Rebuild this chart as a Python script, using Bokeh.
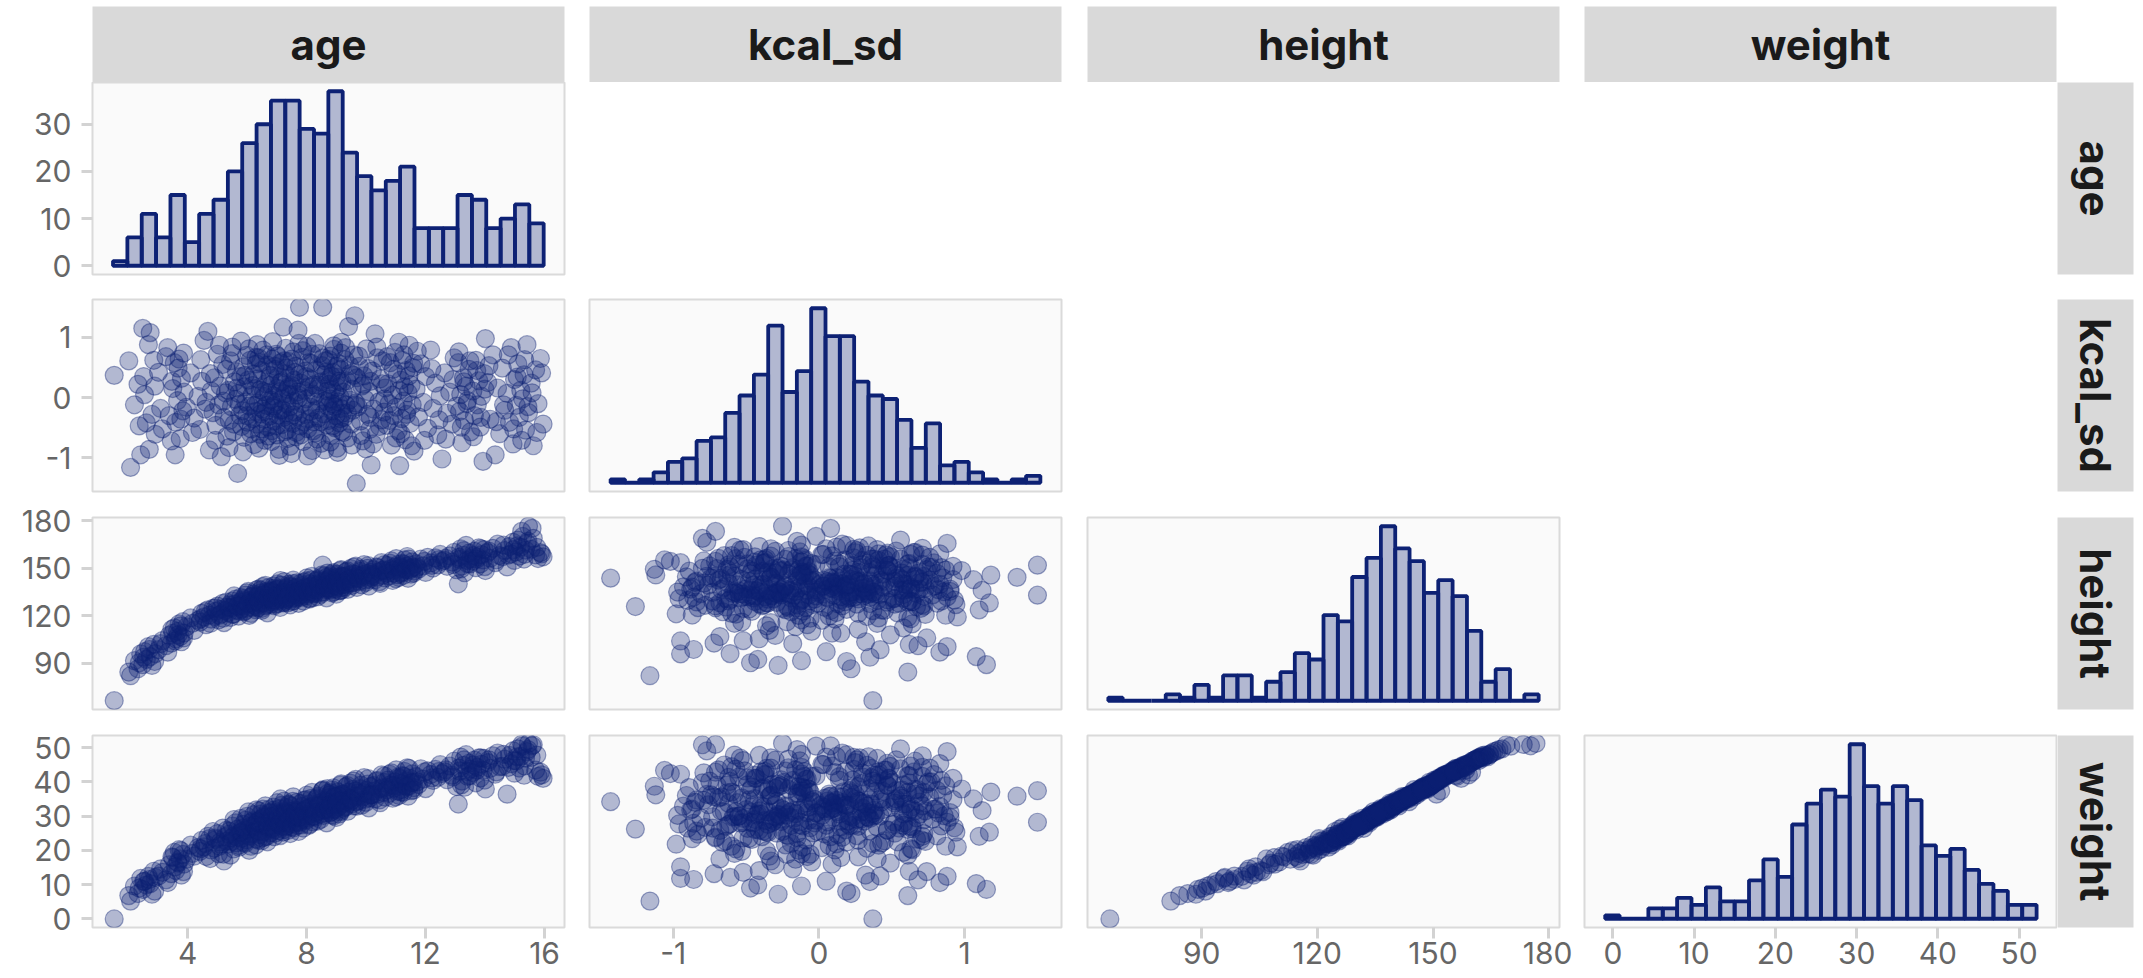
import numpy as np
from bokeh.embed import file_html
from bokeh.layouts import column, row
from bokeh.models import FixedTicker, Label, Range1d, Spacer
from bokeh.plotting import figure
from bokeh.resources import INLINE

NAMES = ["age", "kcal_sd", "height", "weight"]

# One entry per child, same order in every list
AGE = [
    1.53,
    2.08, 2.21, 2.33, 2.42,
    2.49, 2.55, 2.61, 2.68, 2.74, 2.80, 2.86, 2.91,
    3.02, 3.15, 3.27, 3.38,
    3.45, 3.50, 3.55, 3.60, 3.66, 3.71, 3.75, 3.79, 3.84, 3.88,
    3.96, 4.10, 4.22, 4.35,
    4.41, 4.47, 4.55, 4.62, 4.68, 4.73, 4.79, 4.85,
    4.90, 4.95, 5.00, 5.04, 5.09, 5.13, 5.18, 5.22, 5.27, 5.32,
    5.37, 5.40, 5.44, 5.47, 5.50, 5.54, 5.57, 5.61, 5.64, 5.68, 5.71, 5.75, 5.78, 5.81,
    5.85, 5.87, 5.90, 5.92, 5.95, 5.98, 6.01, 6.04, 6.07, 6.10, 6.13, 6.16, 6.19, 6.22, 6.24, 6.27, 6.29, 6.31,
    6.33, 6.35, 6.37, 6.39, 6.42, 6.44, 6.46, 6.49, 6.51, 6.53, 6.56, 6.58, 6.60, 6.63, 6.65, 6.68, 6.70, 6.72, 6.75, 6.77, 6.79,
    6.81, 6.83, 6.85, 6.87, 6.89, 6.91, 6.93, 6.95, 6.97, 6.99, 7.01, 7.03, 7.05, 7.07, 7.09, 7.11, 7.13, 7.15, 7.17, 7.19, 7.21, 7.23, 7.25, 7.26, 7.27,
    7.29, 7.31, 7.33, 7.35, 7.37, 7.39, 7.41, 7.43, 7.45, 7.47, 7.49, 7.51, 7.53, 7.55, 7.57, 7.59, 7.61, 7.63, 7.65, 7.67, 7.69, 7.71, 7.73, 7.75, 7.76,
    7.79, 7.81, 7.84, 7.86, 7.89, 7.91, 7.94, 7.96, 7.99, 8.01, 8.04, 8.06, 8.09, 8.11, 8.14, 8.16, 8.19, 8.21, 8.23, 8.24,
    8.27, 8.29, 8.32, 8.34, 8.37, 8.39, 8.42, 8.44, 8.47, 8.49, 8.52, 8.54, 8.57, 8.59, 8.62, 8.64, 8.67, 8.69, 8.71, 8.72,
    8.74, 8.76, 8.78, 8.80, 8.82, 8.84, 8.86, 8.88, 8.90, 8.92, 8.94, 8.96, 8.98, 9.00, 9.02, 9.04, 9.06, 9.08, 9.10, 9.12, 9.14, 9.15, 9.17, 9.18, 9.19, 9.20,
    9.23, 9.26, 9.29, 9.32, 9.35, 9.38, 9.41, 9.44, 9.47, 9.50, 9.53, 9.56, 9.59, 9.62, 9.65, 9.67, 9.69,
    9.73, 9.77, 9.81, 9.85, 9.89, 9.93, 9.97, 10.01, 10.05, 10.09, 10.12, 10.15, 10.17,
    10.21, 10.25, 10.30, 10.34, 10.38, 10.43, 10.47, 10.52, 10.56, 10.60, 10.64,
    10.69, 10.73, 10.77, 10.81, 10.85, 10.89, 10.93, 10.97, 11.01, 11.05, 11.08, 11.11, 11.13,
    11.16, 11.19, 11.22, 11.25, 11.29, 11.32, 11.35, 11.38, 11.41, 11.45, 11.48, 11.51, 11.55, 11.58, 11.61,
    11.68, 11.76, 11.84, 11.92, 12.00, 12.07,
    12.17, 12.25, 12.33, 12.41, 12.49, 12.55,
    12.64, 12.72, 12.81, 12.89, 12.96, 13.04,
    13.10, 13.14, 13.18, 13.22, 13.27, 13.31, 13.36, 13.41, 13.46, 13.51,
    13.59, 13.64, 13.69, 13.74, 13.79, 13.84, 13.88, 13.93, 13.97, 14.01,
    14.09, 14.17, 14.26, 14.34, 14.42, 14.49,
    14.58, 14.66, 14.74, 14.82, 14.88, 14.94, 14.99,
    15.05, 15.10, 15.15, 15.20, 15.26, 15.31, 15.36, 15.41, 15.46,
    15.55, 15.62, 15.70, 15.78, 15.86, 15.95,
    2.02, 2.37,
    2.52, 2.71, 2.89,
    3.09, 3.33,
    3.47, 3.58, 3.68, 3.77, 3.86,
    4.16,
    4.44, 4.59, 4.76,
    4.93, 5.07, 5.20, 5.30,
    5.39, 5.49, 5.56, 5.66, 5.73, 5.80,
    5.86, 5.93, 5.99, 6.06, 6.12, 6.18, 6.25, 6.30,
    6.34, 6.40, 6.45, 6.50, 6.55, 6.61, 6.66, 6.71, 6.76,
    6.82, 6.86, 6.90, 6.94, 6.98, 7.02, 7.08, 7.12, 7.18, 7.24,
    7.30, 7.34, 7.40, 7.44, 7.50, 7.54, 7.60, 7.64, 7.70, 7.74,
    7.80, 7.87, 7.92, 7.98, 8.03, 8.08, 8.13, 8.18, 8.22,
    8.28, 8.35, 8.41, 8.48, 8.55, 8.61, 8.66, 8.70,
    8.75, 8.79, 8.83, 8.87, 8.91, 8.95, 9.01, 9.05, 9.09, 9.13, 9.16,
    9.24, 9.31, 9.37, 9.45, 9.52, 9.58, 9.64,
    9.75, 9.83, 9.91, 9.99, 10.07, 10.14,
    10.23, 10.36, 10.45, 10.54, 10.62,
    10.71, 10.79, 10.91, 11.00, 11.10,
    11.17, 11.27, 11.36, 11.44, 11.53, 11.60,
    11.72, 11.96,
    12.21, 12.45,
    12.68, 12.92,
    13.12, 13.20, 13.29, 13.39, 13.49,
    13.61, 13.72, 13.86, 13.99,
    14.13, 14.38,
    14.62, 14.78, 14.96,
    15.08, 15.23, 15.33, 15.44,
    15.58, 15.74, 15.90,
]

KCAL_SD = [
    0.37,
    -1.16, -0.12, 0.22, -0.95,
    1.15, 0.05, -0.42, 0.88, 1.08, -0.28, 0.62, -0.61,
    0.42, -0.52, 0.68, -0.30,
    -0.72, 0.15, 0.58, -0.41, -0.05, 0.64, -0.68, 0.32, -0.22, 0.09,
    -0.16, 0.41, -0.34, 0.02,
    -0.53, 0.27, 0.95, -0.08, 1.10, -0.87, 0.11, -0.25,
    0.33, -0.46, 0.72, -0.12, 0.19, -0.98, 0.55, -0.33, 0.08, -0.64,
    0.12, -0.38, 0.61, -0.15, 0.84, -0.57, 0.26, -0.03, 0.43, -1.26, 0.07, -0.29, 0.35, -0.48,
    -0.22, 0.51, -0.66, 0.18, -0.07, 0.70, -0.41, 0.29, -0.14, 0.62, -0.52, 0.04, -0.35, 0.39, -0.78, 0.15, -0.23, 0.56,
    -0.44, 0.31, -0.09, 0.66, -0.61, 0.13, -0.27, 0.45, -0.19, 0.79, -0.36, 0.02, -0.71, 0.23, -0.13, 0.54, -0.49, 0.08, -0.31, 0.37, -0.04,
    0.21, -0.55, 0.64, -0.17, 0.03, -0.39, 0.47, -0.08, 0.72, -0.62, 0.16, -0.29, 0.35, -0.86, 0.10, -0.21, 0.58, -0.45, 0.27, -0.02, 1.17, -0.33, 0.06, -0.57, 0.40,
    -0.26, 0.49, -0.11, 0.14, -0.68, 0.60, -0.37, 0.05, -0.15, 0.33, -0.93, 0.20, -0.43, 0.76, -0.06, 0.29, -0.24, 0.52, -0.58, 0.09, -0.32, 1.12, -0.01, 0.38, 1.50,
    -0.47, 0.24, -0.10, 0.67, -0.73, 0.12, -0.28, 0.44, -0.02, 0.85, -0.52, 0.18, -0.35, 0.31, -0.16, 0.57, -0.88, 0.06, -0.40, 0.21,
    0.03, -0.59, 0.46, -0.20, 0.15, -0.34, 0.73, -0.09, 0.26, -0.76, 0.53, 1.50, -0.27, 0.38, -0.05, 0.61, -0.45, 0.11, -0.14, 0.30,
    -0.38, 0.22, -0.02, 0.69, -0.63, 0.13, -0.22, 0.42, -0.11, 0.80, -0.50, 0.07, -0.30, 0.34, -0.84, 0.17, -0.07, 0.56, -0.42, 0.01, 0.47, -0.18, 0.92, -0.56, 0.25, -0.26,
    0.09, -0.33, 0.63, -0.12, 0.28, -0.67, 1.18, -0.04, 0.40, -0.44, 0.14, -0.21, 0.71, 1.36, -0.09, -1.43, 0.33,
    -0.15, 0.52, -0.39, 0.19, -0.72, 0.36, -0.03, 0.81, -0.28, 0.10, -0.53, 0.27, -1.12,
    0.44, -0.19, 1.06, -0.61, 0.66, -0.07, 0.31, -0.37, 0.61, -0.24, 0.16,
    -0.46, 0.23, -0.10, 0.58, -0.79, 0.04, -0.30, 0.75, -0.16, 0.39, -0.55, 0.12, -1.13,
    0.29, -0.35, 0.62, -0.06, 0.18, -0.70, 0.45, -0.21, 0.08, 0.87, -0.43, 0.21, -0.12, 0.50, -0.89,
    0.14, -0.32, 0.56, -0.08, 0.35, -0.51,
    0.79, -0.18, 0.24, -0.62, 0.03, -1.02,
    0.41, -0.26, 0.09, -0.44, 0.66, -0.14,
    0.58, -0.23, 0.05, -0.75, 0.33, -0.38, 0.19, -0.05, 0.47, -0.57,
    0.11, -0.30, 0.62, -0.12, 0.28, -0.49, 0.02, -1.06, 0.40, 0.98,
    0.25, -0.36, 0.71, -0.95, 0.16, -0.60,
    0.49, -0.21, 0.07, -0.41, 0.83, -0.77, 0.30,
    -0.13, 0.56, -0.33, 0.12, -0.02, 0.38, -0.54, 0.88, -0.25,
    0.24, -0.80, 0.46, -0.10, 0.65, -0.44,
    0.61, -0.47,
    0.35, -0.86, 0.19,
    -0.18, 0.83,
    0.27, -0.95, 0.49, -0.36, 0.74,
    -0.58,
    0.63, -0.19, 0.40,
    -0.71, 0.87, -0.06, 0.47,
    -0.83, 0.73, -0.44, 0.16, -0.11, 0.94,
    -0.90, 0.37, -0.30, 0.81, -0.60, 0.20, -0.13, 0.67,
    0.88, -0.84, 0.58, -0.52, 0.10, -0.23, 0.71, -0.64, 0.33,
    -0.73, 0.93, -0.14, 0.52, -0.47, 0.69, -0.96, 0.25, -0.20, 0.61,
    0.82, -0.54, 0.18, -0.81, 0.64, -0.29, 0.42, -0.65, 0.05, 0.90,
    -0.62, 0.78, -0.41, 0.35, -0.97, 0.58, -0.23, 0.72, -0.55,
    0.90, -0.69, 0.21, -0.40, 0.66, -0.87, 0.43, -0.08,
    0.63, -0.74, 0.36, -0.47, 0.86, -0.15, 0.52, -0.91, 0.27, -0.35, 0.74,
    -0.58, 0.83, -0.26, 0.53, -0.79, 0.37, -0.12,
    0.69, -0.63, 0.22, -0.85, 0.48, -0.33,
    -0.77, 0.84, -0.48, 0.23, -0.02,
    0.68, -0.38, 0.47, -0.67, 0.92,
    -0.60, 0.71, -0.28, 0.36, -0.80, 0.57,
    0.77, -0.71,
    0.48, -0.37,
    -0.69, 0.30,
    0.76, -0.49, 0.26, -0.10, 0.61,
    -0.65, 0.45, -0.33, 0.14,
    0.53, -0.40,
    -0.12, 0.71, -0.52,
    0.34, -0.71, 0.63, -0.15,
    0.08, -0.58, 0.41,
]

HEIGHT = [
    66.2,
    82.0, 91.5, 86.4, 95.8,
    89.0, 97.2, 92.3, 100.4, 94.1, 88.5, 101.8, 96.0,
    98.5, 104.2, 101.0, 107.5,
    102.6, 108.9, 112.3, 105.4, 110.1, 114.8, 106.8, 103.5, 116.2, 109.0,
    113.0, 118.6, 110.7, 117.1,
    116.0, 121.5, 119.2, 114.3, 123.7, 120.4, 117.8, 124.6,
    119.5, 122.8, 126.1, 117.4, 124.0, 121.2, 127.9, 115.6, 123.3, 125.5,
    122.0, 126.8, 118.9, 124.9, 129.2, 121.0, 127.3, 130.5, 123.6, 125.8, 119.7, 128.4, 131.6, 124.2,
    126.0, 130.8, 122.5, 128.9, 133.1, 124.7, 127.5, 135.4, 120.2, 129.6, 131.9, 125.3, 128.0, 133.8, 126.6, 130.2, 123.8, 136.3,
    129.0, 132.7, 125.1, 136.9, 130.3, 127.6, 134.4, 123.4, 131.2, 138.5, 128.3, 133.6, 126.2, 135.1, 129.9, 121.8, 132.0, 137.8, 130.7, 134.9, 127.1,
    131.5, 135.7, 128.8, 133.0, 138.9, 126.4, 130.1, 136.2, 132.3, 129.4, 140.1, 134.0, 127.7, 131.8, 137.1, 125.2, 133.4, 139.4, 130.6, 135.0, 128.1, 132.8, 141.6, 134.6, 129.7,
    133.2, 137.6, 130.4, 135.5, 128.2, 139.9, 132.1, 136.7, 126.9, 134.3, 138.3, 131.0, 135.9, 142.5, 129.5, 133.9, 137.2, 130.9, 135.2, 140.8, 132.6, 136.0, 127.8, 134.7, 133.0,
    136.4, 131.6, 139.0, 134.1, 129.3, 141.3, 135.6, 138.1, 132.5, 144.0, 133.7, 137.9, 130.5, 140.2, 135.3, 142.7, 136.8, 131.4, 139.6, 134.8,
    138.6, 134.2, 141.8, 136.1, 132.0, 143.4, 137.3, 140.6, 133.5, 139.3, 145.9, 152.0, 135.0, 138.9, 142.2, 136.6, 131.3, 140.0, 144.8, 137.5,
    139.8, 143.1, 136.3, 141.0, 145.4, 138.0, 134.5, 142.4, 147.3, 139.1, 136.9, 144.1, 140.7, 133.6, 141.9, 146.2, 138.5, 143.7, 135.8, 140.3, 148.6, 137.7, 142.9, 139.5, 145.0, 136.4,
    141.5, 144.6, 138.2, 147.8, 142.1, 136.7, 145.7, 140.9, 149.9, 143.3, 139.2, 146.5, 141.2, 144.3, 151.4, 143.8, 137.9,
    145.2, 141.7, 148.1, 139.6, 144.9, 152.3, 142.6, 146.8, 150.0, 138.8, 143.0, 147.5, 145.8,
    146.3, 149.2, 142.8, 151.0, 144.5, 147.9, 140.4, 153.6, 145.6, 149.0, 143.9,
    148.4, 151.8, 145.1, 149.6, 154.7, 142.3, 147.0, 150.9, 156.2, 146.0, 152.5, 144.2, 149.4,
    150.3, 147.6, 153.1, 145.5, 155.4, 149.8, 151.2, 157.5, 143.7, 148.9, 152.0, 146.4, 154.1, 150.7, 148.2,
    152.9, 149.5, 155.8, 151.6, 147.4, 157.0,
    153.4, 150.2, 156.6, 152.2, 158.8, 154.4,
    155.1, 151.3, 157.9, 153.9, 160.1, 149.1,
    140.2, 155.7, 162.4, 151.5, 158.3, 147.2, 164.6, 153.0, 159.6, 156.1,
    154.6, 160.8, 150.4, 157.2, 163.0, 152.8, 158.7, 155.3, 161.9, 148.6,
    159.9, 156.4, 162.7, 153.6, 165.3, 158.1,
    157.4, 161.3, 150.9, 163.8, 159.2, 166.5, 155.0,
    160.4, 167.9, 157.7, 163.5, 170.2, 155.9, 161.6, 165.8, 176.7,
    162.1, 169.0, 158.5, 156.2, 160.0, 157.3,
    84.3, 90.2,
    93.7, 98.6, 91.0,
    102.3, 96.9,
    111.4, 104.0, 107.9, 113.6, 105.9,
    115.2,
    118.1, 122.6, 115.1,
    125.0, 120.3, 118.4, 128.6,
    125.1, 120.8, 132.5, 126.3, 122.9, 127.0,
    129.7, 123.2, 134.5, 127.9, 121.5, 132.4, 129.1, 125.7,
    131.9, 128.7, 136.0, 124.6, 133.1, 139.2, 127.0, 130.9, 135.8,
    134.8, 129.9, 137.4, 127.3, 132.9, 136.8, 130.8, 142.3, 133.7, 128.6,
    136.5, 131.3, 138.7, 134.0, 129.0, 140.3, 133.5, 137.9, 131.7, 135.4,
    140.5, 133.2, 137.1, 142.0, 135.0, 131.0, 138.5, 144.9, 133.9,
    136.8, 142.6, 139.8, 134.7, 145.1, 138.1, 141.4, 147.0,
    137.1, 143.9, 140.1, 146.5, 135.2, 142.0, 138.8, 144.6, 141.3, 136.0, 149.2,
    145.0, 139.8, 148.4, 143.6, 140.6, 150.8, 146.1,
    143.4, 149.4, 146.0, 141.1, 151.7, 144.3,
    145.0, 150.5, 141.6, 148.7, 152.4,
    146.9, 153.3, 148.8, 143.5, 151.3,
    146.8, 152.6, 149.1, 155.9, 150.0, 147.0,
    150.6, 154.4,
    151.9, 155.5,
    156.3, 152.4,
    157.0, 149.7, 161.2, 155.0, 152.7,
    158.0, 155.9, 162.4, 151.1,
    160.9, 155.4,
    164.7, 158.4, 161.9,
    164.2, 173.4, 158.9, 167.1,
    175.3, 163.3, 159.2,
]

WEIGHT = [
    0.0,
    5.2, 9.6, 7.4, 11.8,
    8.6, 11.0, 9.9, 12.4, 10.3, 7.2, 13.9, 12.1,
    12.5, 13.6, 11.4, 15.8,
    13.2, 17.9, 19.4, 14.1, 16.6, 20.2, 17.5, 12.8, 18.8, 16.0,
    17.4, 21.5, 18.3, 20.8,
    19.7, 22.9, 21.0, 18.2, 24.1, 23.4, 20.1, 25.5,
    20.6, 23.2, 24.9, 19.0, 22.4, 21.8, 26.5, 16.9, 24.0, 22.7,
    21.9, 25.6, 18.6, 23.7, 27.1, 20.4, 24.3, 28.0, 22.2, 26.2, 21.4, 25.0, 29.3, 23.5,
    24.4, 27.6, 22.3, 26.0, 28.8, 23.1, 25.9, 31.2, 20.0, 27.0, 28.1, 24.8, 25.2, 30.4, 26.7, 26.9, 21.6, 31.8,
    26.1, 28.5, 23.0, 31.5, 27.8, 24.6, 29.1, 22.8, 27.3, 32.0, 25.4, 30.2, 23.9, 29.7, 28.3, 22.5, 26.4, 31.9, 28.6, 30.8, 25.1,
    27.2, 30.0, 26.3, 29.4, 32.6, 24.0, 26.0, 31.0, 28.9, 27.5, 33.9, 29.6, 25.7, 27.9, 32.2, 24.3, 28.0, 33.1, 27.0, 30.9, 25.3, 29.0, 34.4, 31.3, 26.8,
    28.4, 32.5, 27.1, 30.6, 25.8, 33.5, 28.7, 31.4, 24.9, 29.8, 32.9, 27.7, 30.3, 35.6, 26.6, 29.2, 31.7, 28.2, 29.9, 34.0, 28.1, 31.6, 25.5, 30.1, 28.2,
    31.2, 27.4, 32.8, 29.5, 26.5, 34.6, 30.5, 31.9, 28.8, 36.1, 29.3, 32.4, 27.6, 33.6, 30.7, 35.2, 31.8, 28.3, 33.0, 30.0,
    32.1, 29.7, 34.9, 31.1, 28.5, 35.8, 31.5, 33.8, 29.0, 33.3, 37.4, 37.4, 30.2, 31.7, 34.5, 30.9, 28.0, 33.2, 36.6, 32.3,
    32.7, 35.4, 31.0, 34.1, 36.8, 31.3, 30.4, 35.0, 38.2, 32.0, 31.9, 35.7, 33.4, 29.6, 34.7, 37.1, 32.6, 35.9, 30.6, 33.1, 39.0, 31.6, 34.8, 33.9, 36.3, 32.2,
    33.7, 36.0, 32.5, 38.5, 34.3, 31.4, 37.0, 34.0, 39.6, 35.1, 33.6, 37.8, 33.0, 35.8, 40.7, 34.2, 32.9,
    36.7, 34.5, 38.0, 33.2, 35.6, 41.2, 34.9, 37.5, 39.3, 32.4, 35.3, 38.6, 36.2,
    37.2, 38.9, 35.0, 40.1, 36.4, 37.9, 33.9, 42.0, 36.9, 39.8, 35.5,
    38.4, 40.5, 36.6, 39.1, 42.6, 35.2, 38.1, 40.0, 43.5, 37.3, 41.4, 36.0, 38.7,
    39.5, 37.7, 41.8, 36.9, 43.0, 39.0, 40.3, 44.1, 35.8, 38.8, 41.0, 37.4, 42.3, 39.9, 38.3,
    41.5, 39.2, 43.8, 40.8, 38.0, 43.2,
    42.1, 40.4, 43.6, 41.3, 45.0, 42.4,
    42.9, 40.6, 44.6, 41.9, 46.0, 38.6,
    33.5, 43.1, 47.2, 40.2, 44.8, 38.4, 47.9, 41.6, 45.4, 43.7,
    42.7, 46.3, 39.7, 44.2, 47.0, 41.1, 45.1, 43.3, 46.8, 37.9,
    45.6, 43.9, 47.6, 42.2, 48.4, 44.4,
    44.5, 46.6, 36.4, 47.7, 45.3, 49.0, 42.5,
    46.1, 49.6, 44.0, 47.4, 50.4, 41.9, 46.9, 48.8, 51.2,
    47.1, 50.8, 43.4, 41.6, 42.8, 41.0,
    6.8, 9.0,
    10.9, 11.5, 8.1,
    14.6, 10.6,
    18.1, 15.2, 16.3, 19.9, 13.8,
    19.1,
    20.5, 22.0, 17.6,
    23.6, 21.2, 18.9, 25.8,
    24.7, 22.6, 29.0, 23.8, 20.9, 25.3,
    26.5, 22.0, 29.9, 24.2, 21.2, 28.6, 27.4, 23.3,
    28.2, 25.6, 30.6, 23.6, 29.6, 33.0, 24.1, 27.0, 31.1,
    29.8, 26.6, 31.7, 25.0, 28.3, 30.5, 27.7, 35.0, 29.7, 26.1,
    30.9, 28.0, 33.2, 29.4, 26.9, 34.3, 30.0, 31.2, 27.3, 29.6,
    33.7, 29.1, 31.5, 34.8, 30.2, 27.3, 32.6, 36.9, 29.9,
    31.0, 35.3, 33.0, 30.6, 37.7, 32.0, 34.1, 38.0,
    31.9, 36.2, 33.5, 37.6, 30.1, 35.7, 33.8, 36.0, 34.4, 31.2, 39.4,
    36.5, 32.8, 38.9, 35.0, 34.6, 40.2, 37.3,
    35.9, 39.0, 36.8, 34.0, 40.9, 36.1,
    36.3, 40.4, 34.7, 38.2, 41.7,
    37.7, 42.2, 38.9, 35.6, 41.0,
    37.0, 41.6, 38.6, 43.9, 39.7, 37.6,
    40.0, 42.8,
    41.1, 43.0,
    43.5, 41.4,
    44.0, 39.1, 46.4, 43.0, 41.8,
    44.9, 43.4, 47.0, 40.5,
    46.4, 42.9,
    48.0, 44.2, 46.2,
    47.3, 50.9, 44.6, 49.4,
    50.5, 47.8, 42.0,
]

# Histogram bin counts (30 equal bins over each variable's span)
AGE_COUNTS = [1, 6, 11, 6, 15, 5, 11, 14, 20, 26, 30, 35, 35, 29, 28,
              37, 24, 19, 16, 18, 21, 8, 8, 8, 15, 14, 8, 10, 13, 9]
KCAL_SD_COUNTS = [1, 0, 1, 3, 6, 7, 12, 13, 20, 25, 31, 45, 26, 32, 50,
                  42, 42, 29, 25, 24, 18, 10, 17, 5, 6, 3, 1, 0, 1, 2]
HEIGHT_COUNTS = [1, 0, 0, 0, 2, 1, 5, 1, 8, 8, 1, 6, 9, 15, 13,
                 27, 25, 39, 45, 55, 48, 44, 34, 38, 33, 22, 6, 10, 0, 2]
WEIGHT_COUNTS = [1, 0, 0, 3, 3, 6, 4, 9, 5, 5, 11, 17, 12, 27, 33,
                 37, 35, 50, 38, 33, 38, 34, 21, 18, 20, 14, 10, 8, 4, 4]

BIN_SPAN = {"age": (1.49, 15.97), "kcal_sd": (-1.43, 1.52),
            "height": (65.8, 177.4), "weight": (-0.95, 52.15)}

TICKS = {"age": [4, 8, 12, 16], "kcal_sd": [-1, 0, 1],
         "height": [90, 120, 150, 180], "weight": [0, 10, 20, 30, 40, 50]}
COUNT_TICKS = [0, 10, 20, 30]

X_RANGE = {"age": (0.80, 16.67), "kcal_sd": (-1.575, 1.665),
           "height": (60.4, 182.8), "weight": (-3.5, 54.6)}
Y_RANGE = {"kcal_sd": (-1.56, 1.63), "height": (60.6, 182.2),
           "weight": (-2.5, 53.5)}

VALUES = {"age": AGE, "kcal_sd": KCAL_SD, "height": HEIGHT, "weight": WEIGHT}
COUNTS = {"age": AGE_COUNTS, "kcal_sd": KCAL_SD_COUNTS,
          "height": HEIGHT_COUNTS, "weight": WEIGHT_COUNTS}

# Look
FONT = "Inter"
NAVY = "#0d2174"
PANEL_FILL = "#fafafa"
PANEL_EDGE = "#dadada"
STRIP_FILL = "#d9d9d9"
TICK_COLOR = "#d3d3d3"
LABEL_COLOR = "#666666"
STRIP_TEXT = "#1a1a1a"

FRAME_W, FRAME_H = 472, 192
STRIP_THICK, STRIP_TOP, RIGHT_PAD = 76, 6, 10
COL_PAD = [(92, 12), (13, 13), (13, 13), (12, 1)]
ROW_PAD = [(0, 12), (13, 13), (13, 13), (13, 51)]


def style_axis(axis, ticks, standoff):
    axis.ticker = FixedTicker(ticks=ticks)
    # plain hyphen for negative labels
    axis.major_label_overrides = {t: str(t) for t in ticks}
    axis.axis_line_color = None
    axis.major_tick_line_color = TICK_COLOR
    axis.major_tick_line_width = 3
    axis.major_tick_in = 0
    axis.major_tick_out = 11
    axis.minor_tick_line_color = None
    axis.major_label_text_font = FONT
    axis.major_label_text_font_size = "30px"
    axis.major_label_text_color = LABEL_COLOR
    axis.major_label_standoff = standoff


def base_figure(width, height, pads, x_range, y_range, xaxis=None, yaxis=None):
    left, right, top, bottom = pads
    p = figure(width=width, height=height, x_range=x_range, y_range=y_range,
               x_axis_location=xaxis, y_axis_location=yaxis,
               toolbar_location=None, output_backend="svg", title=None,
               min_border_left=left, min_border_right=right,
               min_border_top=top, min_border_bottom=bottom,
               border_fill_color="white")
    p.grid.visible = False
    return p


def strip_figure(width, height, pads, text, angle):
    p = base_figure(width, height, pads, Range1d(0, 1), Range1d(0, 1))
    p.background_fill_color = STRIP_FILL
    p.outline_line_color = None
    p.add_layout(Label(x=0.5, y=0.5, text=text, angle=angle,
                       text_align="center", text_baseline="middle",
                       text_font=FONT, text_font_style="bold",
                       text_font_size="42px", text_color=STRIP_TEXT))
    return p


def panel(r, c):
    left, right = COL_PAD[c]
    top, bottom = ROW_PAD[r]
    xname, yname = NAMES[c], NAMES[r]
    if r == c:
        peak = max(COUNTS[xname])
        y_range = Range1d(-0.05 * peak, 1.05 * peak)
    else:
        y_range = Range1d(*Y_RANGE[yname])
    p = base_figure(left + FRAME_W + right, top + FRAME_H + bottom,
                    (left, right, top, bottom), Range1d(*X_RANGE[xname]), y_range,
                    xaxis="below" if r == 3 else None,
                    yaxis="left" if c == 0 else None)
    p.background_fill_color = PANEL_FILL
    p.outline_line_color = PANEL_EDGE
    p.outline_line_width = 2

    if r == c:
        lo, hi = BIN_SPAN[xname]
        counts = COUNTS[xname]
        edges = np.linspace(lo, hi, len(counts) + 1)
        p.quad(left=edges[:-1], right=edges[1:], bottom=0, top=counts,
               fill_color=NAVY, fill_alpha=0.3, line_color=NAVY, line_width=3.8)
    else:
        p.scatter(x=VALUES[xname], y=VALUES[yname], size=18, marker="circle",
                  fill_color=NAVY, fill_alpha=0.3,
                  line_color=NAVY, line_alpha=0.4, line_width=1.2)

    if r == 3:
        style_axis(p.xaxis[0], TICKS[xname], 3)
    if c == 0:
        style_axis(p.yaxis[0], COUNT_TICKS if r == 0 else TICKS[yname], 10)
    return p


# Header strips along the top
header = []
for c, name in enumerate(NAMES):
    left, right = COL_PAD[c]
    header.append(strip_figure(left + FRAME_W + right, STRIP_TOP + STRIP_THICK,
                               (left, right, STRIP_TOP, 0), name, 0))
header.append(Spacer(width=STRIP_THICK + RIGHT_PAD, height=STRIP_TOP + STRIP_THICK))

grid_rows = [row(*header)]
for r in range(4):
    top, bottom = ROW_PAD[r]
    cells = []
    for c in range(4):
        left, right = COL_PAD[c]
        if c <= r:
            cells.append(panel(r, c))
        else:
            cells.append(Spacer(width=left + FRAME_W + right,
                                height=top + FRAME_H + bottom))
    cells.append(strip_figure(STRIP_THICK + RIGHT_PAD, top + FRAME_H + bottom,
                              (0, RIGHT_PAD, top, bottom), NAMES[r], -np.pi / 2))
    grid_rows.append(row(*cells))

layout = column(*grid_rows)

with open("out.html", "w") as f:
    f.write(file_html(layout, INLINE, title="Pairs plot"))
